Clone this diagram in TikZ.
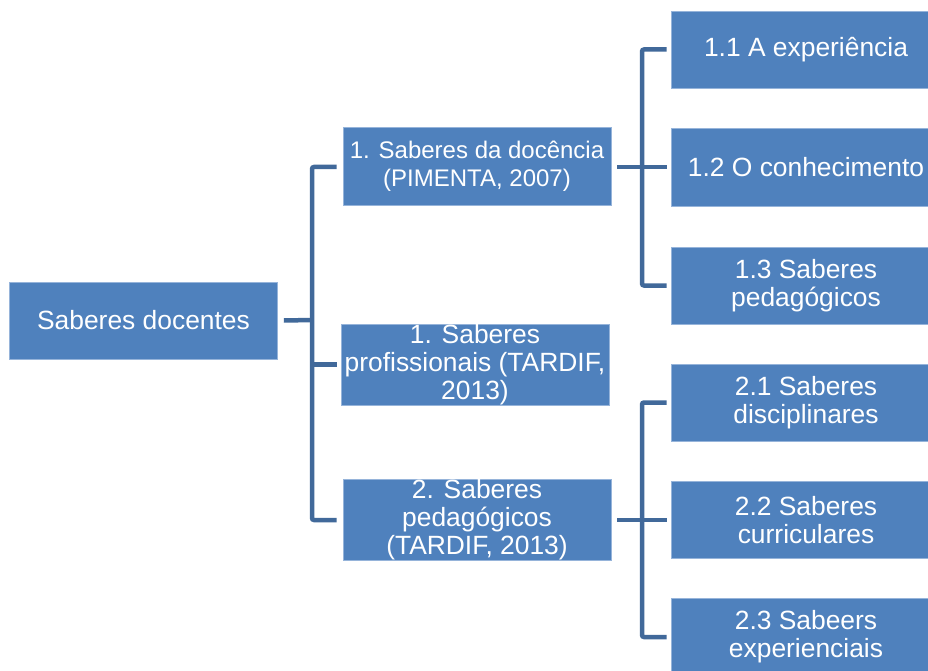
\documentclass[tikz,border=0pt]{standalone}
\usepackage{fontspec}
\setmainfont{Liberation Sans}
\definecolor{boxblue}{RGB}{79,129,189}
\definecolor{lineblue}{RGB}{65,105,154}
\definecolor{edgeblue}{RGB}{150,180,218}
\tikzset{
  box/.style={rectangle, fill=boxblue, draw=edgeblue, line width=0.6pt, text=white,
    align=center, inner sep=0pt, font=\fontsize{26.4}{28}\selectfont},
  conn/.style={draw=lineblue, line width=4.5pt, rounded corners=2pt}
}
\begin{document}
\begin{tikzpicture}[x=1pt,y=-1pt]
\clip (0,0) rectangle (928,671);
% root
\node[box, minimum width=268pt, minimum height=77pt] (root) at (143.5,320.5) {Saberes docentes};
% middle level
\node[box, minimum width=268pt, minimum height=78pt, font=\fontsize{24}{28}\selectfont] (n1) at (477,166) {1. Saberes da docência\\(PIMENTA, 2007)};
\node[box, minimum width=268pt, minimum height=77pt] (n2) at (475,364.5) {1. Saberes\\profissionais (TARDIF,\\2013)};
\node[box, minimum width=268pt, minimum height=77pt] (n3) at (477,519.5) {2. Saberes\\pedagógicos\\(TARDIF, 2013)};
% right level
\node[box, minimum width=270pt, minimum height=77pt] (r11) at (806,49.5) {1.1 A experiência};
\node[box, minimum width=270pt, minimum height=78pt] (r12) at (806,167) {1.2 O conhecimento};
\node[box, minimum width=270pt, minimum height=77pt] (r13) at (806,285.5) {1.3 Saberes\\pedagógicos};
\node[box, minimum width=270pt, minimum height=77pt] (r21) at (806,402.5) {2.1 Saberes\\disciplinares};
\node[box, minimum width=270pt, minimum height=77pt] (r22) at (806,520) {2.2 Saberes\\curriculares};
\node[box, minimum width=270pt, minimum height=78pt] (r23) at (806,637) {2.3 Sabeers\\experienciais};
% bracket points
\coordinate (v0) at (312,320);
\coordinate (v1) at (642,167);
\coordinate (v2) at (642,520);
% root bracket
\draw[conn] ([xshift=6pt]root.east) -- (v0);
\draw[conn] ([xshift=-6pt]n1.west |- v1) -| (v0) |- ([xshift=-6pt]n3.west |- v2);
\draw[conn] (v0 |- n2.west) -- ([xshift=-4pt]n2.west);
% bracket 1
\draw[conn] ([xshift=6pt]n1.east |- v1) -- (v1);
\draw[conn] ([xshift=-4pt]r11.west) -| (v1) |- ([xshift=-4pt]r13.west);
\draw[conn] (v1) -- ([xshift=-4pt]r12.west);
% bracket 2
\draw[conn] ([xshift=6pt]n3.east |- v2) -- (v2);
\draw[conn] ([xshift=-4pt]r21.west) -| (v2) |- ([xshift=-4pt]r23.west);
\draw[conn] (v2) -- ([xshift=-4pt]r22.west);
\end{tikzpicture}
\end{document}
